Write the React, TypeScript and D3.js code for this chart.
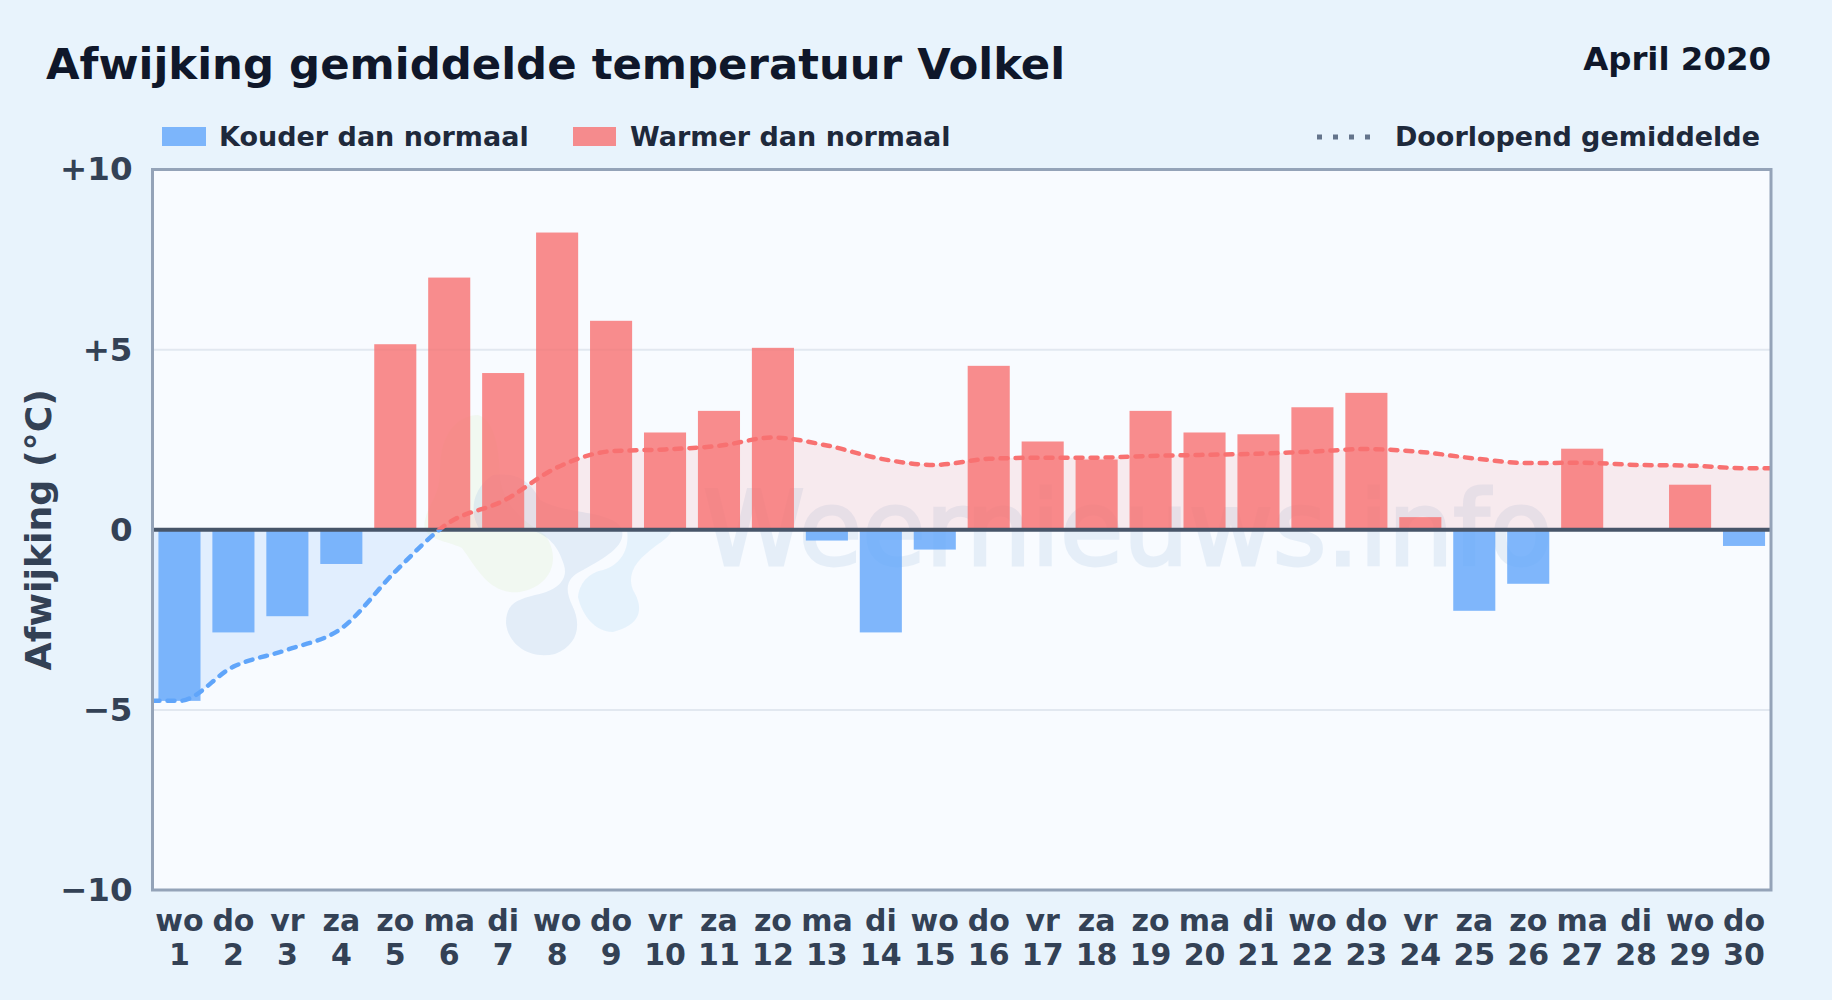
import React, { useRef, useEffect } from "react";
import {
  select,
  scaleBand,
  scaleLinear,
  axisBottom,
  axisLeft,
  line,
  area,
  curveMonotoneX,
} from "d3";

const weekdays = [
  "wo", "do", "vr", "za", "zo", "ma", "di", "wo", "do", "vr",
  "za", "zo", "ma", "di", "wo", "do", "vr", "za", "zo", "ma",
  "di", "wo", "do", "vr", "za", "zo", "ma", "di", "wo", "do",
];
const days = [
  1, 2, 3, 4, 5, 6, 7, 8, 9, 10, 11, 12, 13, 14, 15, 16, 17, 18, 19, 20, 21,
  22, 23, 24, 25, 26, 27, 28, 29, 30,
];
const deviation = [
  -4.75, -2.85, -2.4, -0.95, 5.15, 7.0, 4.35, 8.25, 5.8, 2.7, 3.3, 5.05, -0.3,
  -2.85, -0.55, 4.55, 2.45, 1.95, 3.3, 2.7, 2.65, 3.4, 3.8, 0.35, -2.25, -1.5,
  2.25, 0, 1.25, -0.45,
];
const runningMean = [
  -4.75, -3.8, -3.33, -2.74, -1.16, 0.2, 0.8, 1.73, 2.18, 2.23, 2.33, 2.56,
  2.34, 1.97, 1.8, 1.97, 2.0, 2.0, 2.05, 2.08, 2.11, 2.17, 2.24, 2.16, 1.98,
  1.85, 1.86, 1.8, 1.78, 1.71,
];
const yTicks = [-10, -5, 0, 5, 10];

const W = 1832;
const H = 1000;
const margin = { top: 169.5, right: 61, bottom: 110, left: 152.5 };
const FONT = "'DejaVu Sans', sans-serif";

const fmtY = (v: number) =>
  v > 0 ? `+${v}` : v < 0 ? `\u2212${Math.abs(v)}` : "0";

const App: React.FC = () => {
  const svgRef = useRef<SVGSVGElement>(null);

  useEffect(() => {
    document.body.style.margin = "0";
    const svg = select(svgRef.current);
    svg.selectAll("*").remove();

    const left = margin.left;
    const right = W - margin.right;
    const top = margin.top;
    const bottom = H - margin.bottom;

    const x = scaleBand<number>()
      .domain(days)
      .range([left, right])
      .paddingInner(0.22)
      .paddingOuter(0.11);
    const xLine = scaleLinear().domain([0.5, 30.5]).range([left, right]);
    const y = scaleLinear().domain([-10, 10]).range([bottom, top]);

    // achtergrond
    const defs = svg.append("defs");
    svg
      .append("rect")
      .attr("width", W)
      .attr("height", H)
      .attr("fill", "#e8f3fc");
    svg
      .append("rect")
      .attr("x", left)
      .attr("y", top)
      .attr("width", right - left)
      .attr("height", bottom - top)
      .attr("fill", "#f8fbff");

    // clip boven en onder nul
    const clipAbove = defs.append("clipPath").attr("id", "above");
    clipAbove
      .append("rect")
      .attr("x", left)
      .attr("y", top)
      .attr("width", right - left)
      .attr("height", y(0) - top);
    const clipBelow = defs.append("clipPath").attr("id", "below");
    clipBelow
      .append("rect")
      .attr("x", left)
      .attr("y", y(0))
      .attr("width", right - left)
      .attr("height", bottom - y(0));

    // gridlijnen
    svg
      .append("g")
      .selectAll("line")
      .data(yTicks.filter((t) => t === 5 || t === -5))
      .join("line")
      .attr("x1", left)
      .attr("x2", right)
      .attr("y1", (d) => y(d))
      .attr("y2", (d) => y(d))
      .attr("stroke", "#e2e8f0")
      .attr("stroke-width", 2);

    // watermerk
    const mark = svg.append("g");
    const blobs = [
      {
        fill: "#dcefc4",
        o: 0.24,
        d: "M440 470 C440 430 460 415 478 415 C495 420 500 450 500 480 C505 510 530 525 545 535 C560 555 555 585 520 592 C490 595 478 570 462 548 C445 540 420 540 425 520 C430 500 440 495 440 470 Z",
      },
      {
        fill: "#a9c6e6",
        o: 0.27,
        d: "M493 475 C515 472 530 480 540 500 C565 515 615 510 622 530 C625 545 610 555 583 570 C565 578 565 590 572 605 C582 625 578 645 555 654 C530 660 508 645 506 623 C506 605 515 600 535 595 C560 590 568 578 564 565 C558 545 548 535 530 530 L480 530 C470 515 470 490 493 475 Z",
      },
      {
        fill: "#bfe0f7",
        o: 0.32,
        d: "M627 530 L672 530 C668 540 655 545 647 553 C632 565 628 578 633 590 C645 610 640 625 613 632 C595 632 582 615 578 597 C580 580 592 572 603 570 C620 565 630 550 627 530 Z",
      },
    ];
    blobs.forEach((b) =>
      mark.append("path").attr("d", b.d).attr("fill", b.fill).attr("opacity", b.o)
    );
    mark
      .append("text")
      .attr("x", 703)
      .attr("y", 565)
      .attr("font-family", FONT)
      .attr("font-size", 103)
      .attr("fill", "#3f7cc0")
      .attr("stroke", "#3f7cc0")
      .attr("stroke-width", 3)
      .attr("opacity", 0.095)
      .text("Weernieuws.info");

    // doorlopend gemiddelde
    const meanPoints = [
      { day: 0.5, v: runningMean[0] },
      ...days.map((d, i) => ({ day: d, v: runningMean[i] })),
      { day: 30.5, v: runningMean[29] },
    ];
    const areaGen = area<{ day: number; v: number }>()
      .x((d) => xLine(d.day))
      .y0(y(0))
      .y1((d) => y(d.v))
      .curve(curveMonotoneX);
    const lineGen = line<{ day: number; v: number }>()
      .x((d) => xLine(d.day))
      .y((d) => y(d.v))
      .curve(curveMonotoneX);

    svg
      .append("path")
      .attr("d", areaGen(meanPoints))
      .attr("clip-path", "url(#above)")
      .attr("fill", "#f87171")
      .attr("opacity", 0.12);
    svg
      .append("path")
      .attr("d", areaGen(meanPoints))
      .attr("clip-path", "url(#below)")
      .attr("fill", "#60a5fa")
      .attr("opacity", 0.15);

    // balken
    svg
      .append("g")
      .selectAll("rect")
      .data(days)
      .join("rect")
      .attr("x", (d) => x(d)!)
      .attr("width", x.bandwidth())
      .attr("y", (_, i) => Math.min(y(deviation[i]), y(0)))
      .attr("height", (_, i) => Math.abs(y(deviation[i]) - y(0)))
      .attr("fill", (_, i) => (deviation[i] < 0 ? "#60a5fa" : "#f87171"))
      .attr("opacity", 0.8);

    // nullijn
    svg
      .append("line")
      .attr("x1", left)
      .attr("x2", right)
      .attr("y1", y(0))
      .attr("y2", y(0))
      .attr("stroke", "#475569")
      .attr("stroke-width", 4);

    // gemiddelde lijn, blauw onder en rood boven nul
    [
      { clip: "above", color: "#f87171" },
      { clip: "below", color: "#60a5fa" },
    ].forEach((s) => {
      svg
        .append("path")
        .attr("d", lineGen(meanPoints))
        .attr("clip-path", `url(#${s.clip})`)
        .attr("fill", "none")
        .attr("stroke", s.color)
        .attr("stroke-width", 4.5)
        .attr("stroke-dasharray", "7 8")
        .attr("stroke-linecap", "round");
    });

    // kader
    svg
      .append("rect")
      .attr("x", left)
      .attr("y", top)
      .attr("width", right - left)
      .attr("height", bottom - top)
      .attr("fill", "none")
      .attr("stroke", "#94a3b8")
      .attr("stroke-width", 3);

    // assen
    const yAxisG = svg
      .append("g")
      .attr("transform", `translate(${left},0)`)
      .call(
        axisLeft(y)
          .tickValues(yTicks)
          .tickFormat((d) => fmtY(d as number))
          .tickSize(0)
          .tickPadding(20)
      );
    yAxisG.select(".domain").remove();
    yAxisG
      .selectAll("text")
      .attr("font-family", FONT)
      .attr("font-weight", 700)
      .attr("font-size", 32.5)
      .attr("fill", "#334155");

    const xAxisG = svg
      .append("g")
      .attr("transform", `translate(0,${bottom})`)
      .call(axisBottom(x).tickSize(0).tickFormat(() => ""));
    xAxisG.select(".domain").remove();
    xAxisG.selectAll("text").remove();
    xAxisG
      .selectAll<SVGGElement, number>(".tick")
      .each(function (d, i) {
        const t = select(this);
        t.append("text").attr("y", 41).text(weekdays[i]);
        t.append("text").attr("y", 75).text(d);
      })
      .selectAll("text")
      .attr("text-anchor", "middle")
      .attr("font-family", FONT)
      .attr("font-weight", 700)
      .attr("font-size", 30)
      .attr("fill", "#334155");

    svg
      .append("text")
      .attr("transform", `translate(51,${y(0)}) rotate(-90)`)
      .attr("text-anchor", "middle")
      .attr("font-family", FONT)
      .attr("font-weight", 700)
      .attr("font-size", 36.3)
      .attr("fill", "#334155")
      .text("Afwijking (°C)");

    // titels
    svg
      .append("text")
      .attr("x", 46)
      .attr("y", 79)
      .attr("font-family", FONT)
      .attr("font-weight", 700)
      .attr("font-size", 43.4)
      .attr("fill", "#0f172a")
      .text("Afwijking gemiddelde temperatuur Volkel");
    svg
      .append("text")
      .attr("x", right)
      .attr("y", 70)
      .attr("text-anchor", "end")
      .attr("font-family", FONT)
      .attr("font-weight", 700)
      .attr("font-size", 32.4)
      .attr("fill", "#0f172a")
      .text("April 2020");

    // legenda
    const legendText = (tx: number, label: string, anchor = "start") =>
      svg
        .append("text")
        .attr("x", tx)
        .attr("y", 146)
        .attr("text-anchor", anchor)
        .attr("font-family", FONT)
        .attr("font-weight", 700)
        .attr("font-size", 27)
        .attr("fill", "#1e293b")
        .text(label);

    svg
      .append("rect")
      .attr("x", 162)
      .attr("y", 127)
      .attr("width", 44)
      .attr("height", 19)
      .attr("fill", "#60a5fa")
      .attr("opacity", 0.8);
    legendText(219, "Kouder dan normaal");
    svg
      .append("rect")
      .attr("x", 573)
      .attr("y", 127)
      .attr("width", 43)
      .attr("height", 19)
      .attr("fill", "#f87171")
      .attr("opacity", 0.8);
    legendText(630, "Warmer dan normaal");
    svg
      .append("line")
      .attr("x1", 1317)
      .attr("x2", 1376)
      .attr("y1", 137)
      .attr("y2", 137)
      .attr("stroke", "#64748b")
      .attr("stroke-width", 5)
      .attr("stroke-dasharray", "5 11");
    legendText(1760, "Doorlopend gemiddelde", "end");
  }, []);

  return (
    <div style={{ position: "absolute", left: 0, top: 0 }}>
      <svg
        ref={svgRef}
        width={W}
        height={H}
        viewBox={`0 0 ${W} ${H}`}
        style={{ display: "block" }}
      />
    </div>
  );
};

export default App;
